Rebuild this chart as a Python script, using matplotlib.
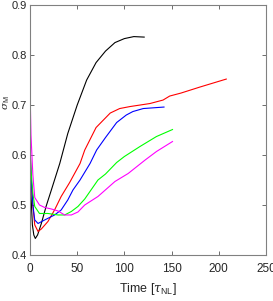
import numpy as np
import matplotlib
matplotlib.use("Agg")
import matplotlib.pyplot as plt

plt.rcParams['font.family'] = ['Liberation Sans', 'DejaVu Sans']
plt.rcParams['mathtext.fontset'] = 'custom'
plt.rcParams['mathtext.it'] = 'DejaVu Serif:italic'
plt.rcParams['mathtext.rm'] = 'Liberation Sans'

# Curves (time in tau_NL, sigma_M)
black_t = [0, 1, 2.5, 4, 5.6, 8, 12, 17, 22.6, 31.5, 40, 50, 60, 70, 80, 90, 100, 110, 121]
black_s = [0.60, 0.52, 0.46, 0.44, 0.433, 0.44, 0.463, 0.497, 0.53, 0.583, 0.643, 0.70,
           0.75, 0.785, 0.808, 0.825, 0.833, 0.837, 0.836]

red_t = [0, 1, 3, 5, 8.5, 12, 19, 26, 33, 42, 53, 58, 70, 85, 95, 106, 127, 141, 148,
         160, 180, 201, 208]
red_s = [0.62, 0.56, 0.50, 0.46, 0.447, 0.452, 0.467, 0.49, 0.517, 0.545, 0.583, 0.61,
         0.655, 0.684, 0.693, 0.697, 0.703, 0.71, 0.718, 0.724, 0.736, 0.748, 0.752]

blue_t = [0, 1, 3, 5, 8.5, 15.5, 26, 33, 40, 45.5, 53, 63.6, 70.6, 80, 91.8, 102, 109,
          120, 142]
blue_s = [0.62, 0.56, 0.50, 0.47, 0.463, 0.47, 0.48, 0.49, 0.51, 0.53, 0.55, 0.583, 0.61,
          0.635, 0.665, 0.68, 0.687, 0.693, 0.696]

green_t = [0, 1, 3, 5, 10, 19, 29.7, 36.7, 43.8, 50.8, 58, 72, 80, 91.8, 100, 116.5,
           134, 151]
green_s = [0.62, 0.57, 0.523, 0.497, 0.483, 0.483, 0.48, 0.48, 0.487, 0.497, 0.512, 0.55,
           0.562, 0.585, 0.597, 0.617, 0.637, 0.651]

magenta_t = [0, 1, 3, 5, 10, 15.5, 22.6, 29.7, 36.7, 43.8, 50.8, 58, 72, 90, 104, 122,
             134, 151]
magenta_s = [0.732, 0.64, 0.56, 0.515, 0.50, 0.495, 0.492, 0.488, 0.48, 0.48, 0.486, 0.50,
             0.517, 0.547, 0.563, 0.59, 0.607, 0.627]

fig = plt.figure(figsize=(2.73, 3.01), dpi=100)
ax = fig.add_axes([0.11, 0.153, 0.864, 0.830])

ax.plot(black_t, black_s, color='black', lw=0.8)
ax.plot(red_t, red_s, color='#ff0000', lw=0.8)
ax.plot(blue_t, blue_s, color='#0000ff', lw=0.8)
ax.plot(green_t, green_s, color='#00ff00', lw=0.8)
ax.plot(magenta_t, magenta_s, color='#ff00ff', lw=0.8)

ax.set_xlim(0, 250)
ax.set_ylim(0.4, 0.9)
ax.set_xticks([0, 50, 100, 150, 200, 250])
ax.set_yticks([0.4, 0.5, 0.6, 0.7, 0.8, 0.9])
ax.tick_params(direction='in', length=3, width=0.6, color='#555555',
               top=True, right=True, labelsize=8.5, labelcolor='#262626')
ax.tick_params(axis='x', pad=6)
ax.tick_params(axis='y', pad=2, labelsize=8)
for sp in ax.spines.values():
    sp.set_color('#808080')
    sp.set_linewidth(0.8)

ax.set_xlabel(r'Time [$\tau_{\rm NL}$]', fontsize=9, color='#262626')
ax.xaxis.set_label_coords(0.5, -0.105)
ax.set_ylabel(r'$\sigma_{\rm M}$', fontsize=7.5, color='#262626')
ax.yaxis.set_label_coords(-0.077, 0.61)

fig.savefig('out.png', dpi=100)
